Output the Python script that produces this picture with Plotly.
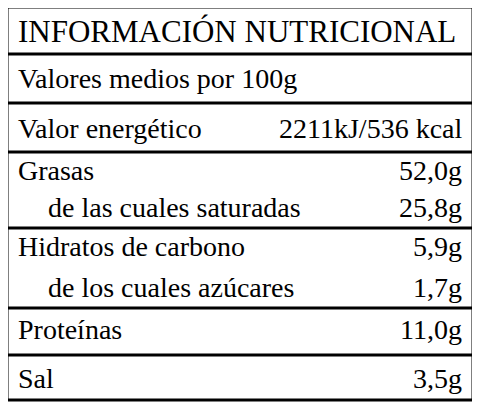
import plotly.graph_objects as go

title = "INFORMACIÓN NUTRICIONAL"
labels = ["Valores medios por 100g", "Valor energético", "Grasas", "de las cuales saturadas",
          "Hidratos de carbono", "de los cuales azúcares", "Proteínas", "Sal"]
values = ["", "2211kJ/536 kcal", "52,0g", "25,8g", "5,9g", "1,7g", "11,0g", "3,5g"]
indent = [False, False, False, True, False, True, False, False]
row_y = [78, 128, 170, 207, 246, 287, 329, 378]
sep_y = [54, 103, 152, 228, 308, 355]

fig = go.Figure()
font = dict(family="Liberation Serif", size=28, color="black")
fig.add_annotation(x=16, y=31, text=title, xanchor="left", yanchor="middle",
                   showarrow=False, font=dict(family="Liberation Serif", size=31, color="black"))
for lab, val, ind, y in zip(labels, values, indent, row_y):
    fig.add_annotation(x=46 if ind else 16, y=y, text=lab, xanchor="left", yanchor="middle",
                       showarrow=False, font=font)
    if val:
        fig.add_annotation(x=464, y=y, text=val, xanchor="right", yanchor="middle",
                           showarrow=False, font=font)
fig.add_shape(type="rect", x0=7, x1=473, y0=7, y1=400, line=dict(color="black", width=3))
for y in sep_y:
    fig.add_shape(type="line", x0=7, x1=473, y0=y, y1=y, line=dict(color="black", width=3))

# page body has an 8px margin: size the figure to the visible area
fig.update_layout(width=472, height=399, margin=dict(l=0, r=0, t=0, b=0),
                  plot_bgcolor="white", paper_bgcolor="white", showlegend=False,
                  xaxis=dict(range=[8, 480], visible=False),
                  yaxis=dict(range=[407, 8], visible=False))
fig.write_html("out.html")
